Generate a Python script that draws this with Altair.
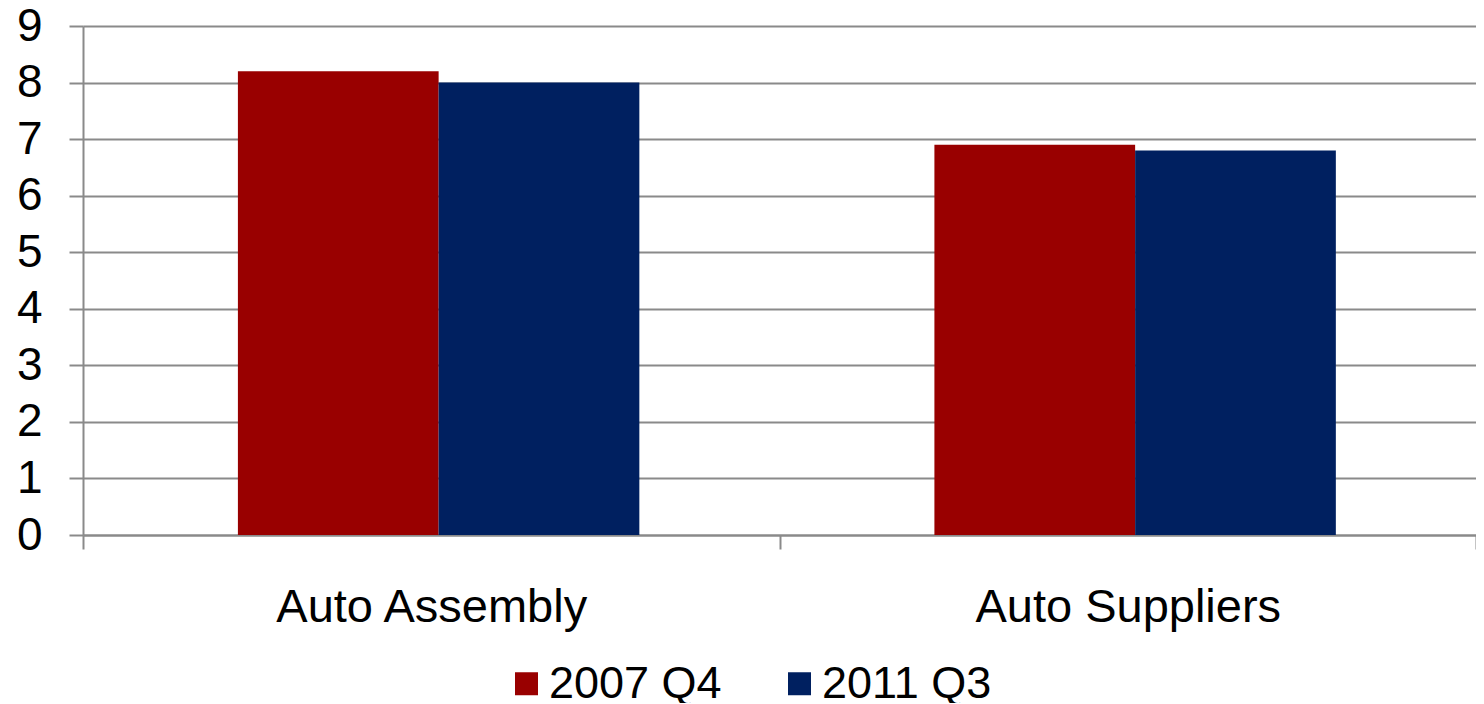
import altair as alt
import pandas as pd

categories = ["Auto Assembly", "Auto Suppliers"]
series = ["2007 Q4", "2011 Q3"]
values_2007 = [8.2, 6.9]
values_2011 = [8.0, 6.8]
colors = ["#990000", "#002060"]
y_ticks = [0, 1, 2, 3, 4, 5, 6, 7, 8, 9]

rows = []
for i, c in enumerate(categories):
    rows.append({"category": c, "series": series[0], "value": values_2007[i]})
    rows.append({"category": c, "series": series[1], "value": values_2011[i]})
df = pd.DataFrame(rows)

FONT = "Liberation Sans"
GRID = "#8a8a8a"

chart = alt.Chart(df).mark_bar().encode(
    x=alt.X("category:N", sort=categories, title=None,
            scale=alt.Scale(paddingInner=0, paddingOuter=0),
            axis=alt.Axis(labelAngle=0, labelFont=FONT, labelFontSize=47, labelColor="#000000",
                          labelPadding=35, labelLimit=0, tickBand="extent", tickSize=14,
                          tickColor=GRID, tickWidth=2, domainColor=GRID, domainWidth=2,
                          grid=False)),
    xOffset=alt.XOffset("series:N", sort=series,
                        scale=alt.Scale(paddingInner=0, paddingOuter=0.735, align=0.525)),
    y=alt.Y("value:Q", title=None,
            scale=alt.Scale(domain=[0, 9], nice=False),
            axis=alt.Axis(values=y_ticks, labelFont=FONT, labelFontSize=46, labelColor="#000000",
                          labelPadding=27, tickSize=14, tickColor=GRID, tickWidth=2,
                          domainColor=GRID, domainWidth=2, gridColor=GRID, gridWidth=2)),
    color=alt.Color("series:N", sort=series,
                    scale=alt.Scale(domain=series, range=colors),
                    legend=alt.Legend(title=None, orient="none", direction="horizontal",
                                      legendX=421, legendY=635, padding=0,
                                      symbolType="square", symbolSize=529, symbolStrokeWidth=0,
                                      labelFont=FONT, labelFontSize=45, labelColor="#000000",
                                      labelLimit=0, labelOffset=0, columnPadding=55)),
).properties(
    width=1393,
    height=509,
    autosize=alt.AutoSizeParams(type="none"),
    padding={"left": 75, "top": 18, "right": 0, "bottom": 168},
).configure_view(stroke=None)

chart.save("out.html", embed_options={"renderer": "svg", "actions": False})
